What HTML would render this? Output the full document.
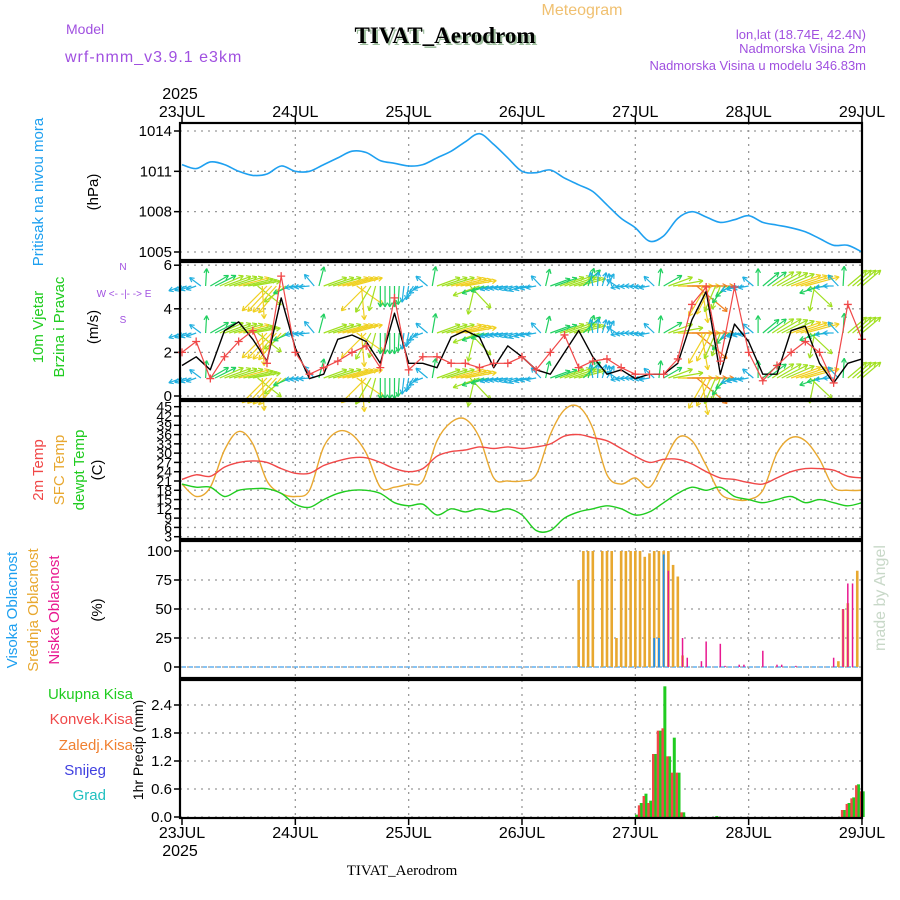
<!DOCTYPE html>
<html><head><meta charset="utf-8"><style>
body{margin:0;background:#fff}
svg{display:block;font-family:"Liberation Sans",sans-serif}
</style></head><body>
<svg id="c" width="900" height="900" viewBox="0 0 900 900" xmlns="http://www.w3.org/2000/svg">
<g id="static"></g>
</svg>
<script>
// ---- data ----
const dayLabels=["23JUL","24JUL","25JUL","26JUL","27JUL","28JUL","29JUL"];
const presTicks=[1014,1011,1008,1005];
const windTicks=[0,2,4,6];
const tempTicks=[3,6,9,12,15,18,21,24,27,30,33,36,39,42,45];
const cloudTicks=[0,25,50,75,100];
const precTicks=[0,0.6,1.2,1.8,2.4];
// 3-hourly series (49 values)
const pressure=[1011.5,1011.2,1011.7,1011.5,1011.0,1010.7,1010.8,1011.4,
1011.0,1011.0,1011.5,1012.0,1012.5,1012.4,1011.8,1011.6,
1011.4,1011.5,1012.0,1012.5,1013.2,1013.8,1013.0,1012.0,
1011.0,1010.9,1011.1,1010.5,1010.0,1009.5,1008.5,1007.5,
1006.8,1005.8,1006.2,1007.5,1008.0,1007.6,1007.2,1007.4,
1007.7,1007.2,1007.0,1006.8,1006.5,1006.0,1005.5,1005.5,1005.0];
const windSpeed=[1.4,1.8,1.2,3.0,3.4,2.6,1.6,4.5,
2.2,0.8,1.0,2.6,2.8,2.5,1.5,3.8,
1.5,1.5,1.3,2.7,3.0,2.7,1.3,2.3,
1.8,1.2,1.0,2.0,3.0,1.8,1.0,1.2,
0.8,1.0,1.0,1.5,3.5,4.8,1.0,3.3,
2.5,1.0,1.0,3.0,3.2,1.5,0.6,1.5,1.7];
const windGust=[2.0,2.5,0.8,1.8,2.5,3.0,1.5,5.5,
2.0,1.0,1.3,1.6,2.0,2.3,1.3,4.5,
1.2,1.8,1.8,1.5,1.5,1.3,1.5,1.5,
1.8,1.2,2.0,2.8,1.3,1.6,1.7,1.3,
1.0,1.0,1.0,1.7,4.2,5.0,1.6,5.0,
2.0,0.7,1.4,2.0,2.5,2.0,0.6,4.2,2.6];
const windDir=[200,200,30,20,15,10,225,230,
190,185,20,15,15,225,270,270,
260,200,20,15,10,200,195,190,
200,190,20,20,15,100,60,190,
180,190,30,0,0,240,250,200,
190,40,30,20,15,200,180,40,40];
const arrowSpeed=[2,1.5,3,4,4.5,4,5,5,
1.5,1.5,3.5,4.5,4.5,5,3,3,
2,1.5,3.5,4.5,4.5,4,2,2,
2,1.5,3,4,4,2,2,1.5,
1.5,1.5,3,5,6,5,3.5,2,
1.5,3,4,4.5,5,3,1.5,3.5,3.5];
const t2m=[21.5,23,22.5,25.5,27,27.5,27,25,
23.5,23.5,26,27.5,28.5,28.5,27,25,
24,25,29,30.5,31,32,31.5,32,
31.5,32,33,35.5,36,35,34,31.5,
29,27,28,28,26.5,24,22,21.5,
20.5,20,22,24,25,25,24.5,22.5,22];
const tsfc=[20,16,19,31,37,33,21,17,
16,18,32,37,36,30,19,19,
20,21,34,40,41,35,22,21,
21,23,36,44,45,38,23,20,
22,19,27,35,34,26,17,15,
15,18,30,35,34,28,19,18,18];
const tdew=[20,19,19,16,18,18.5,18.5,17,
13.5,12.5,15,17,18,18,17,14,
13,13.5,10,12,11,12,11,12,
10,5,5,9,11,12,13,12,
10,11,14,17,19,18,19,16,
15,14,15,16,14,15,14,13,14];
// hourly sparse cloud / precip
const midHours=[84,85,86,87,89,90,91,92,93,94,95,96,97,98,99,100,101,102,103,104,105,106,139,140,141,143];
const midVals=[75,100,100,100,100,100,100,25,100,100,100,100,100,95,98,100,100,100,100,88,78,10,5,50,55,83];
const highHours=[100,101,102];
const highVals=[25,25,97];
const lowHours=[103,106,107,110,111,114,115,118,119,123,126,127,130,138,140,141,142];
const lowVals=[83,25,8,5,22,20,1,2,2,14,2,2,1,8,50,72,72];
const precHours=[96,97,98,99,100,101,102,103,104,105,106,113,140,141,142,143,144];
const precTotal=[0.05,0.3,0.5,0.35,1.35,1.85,2.8,1.3,1.7,0.95,0.1,0.02,0.15,0.3,0.42,0.7,0.55];
const precConv=[0.0,0.25,0.45,0.3,1.35,1.85,1.9,1.3,0.95,0.95,0.1,0.0,0.15,0.28,0.4,0.68,0.55];

// ---- scales ----
const X0=182, DAY=113.33;
const xh=h=>X0+h*DAY/24;
const xi=i=>xh(i*3);
const yP=p=>131+(1014-p)*40.33/3;
const yW=v=>396-v*21.8;
const yT=t=>536.7-(t-3)*3.095;
const yC=c=>667-c*1.16;
const yR=p=>817-p*46.67;
const L=180,R=862;
const panels=[[123,260],[262,399],[401,539],[541,678],[680,818]];

const NS="http://www.w3.org/2000/svg";
const svg=document.getElementById('c');
function mk(tag,attrs,parent,text){const e=document.createElementNS(NS,tag);for(const k in attrs)e.setAttribute(k,attrs[k]);if(text!==undefined)e.textContent=text;(parent||svg).appendChild(e);return e;}

// gridlines
const grid=mk('g',{});


panels.forEach(([t,b])=>{
  for(let d=1;d<6;d++){const x=X0+d*DAY;mk('line',{x1:x,x2:x,y1:t,y2:b,stroke:'#999','stroke-dasharray':'2,5','stroke-width':1.3},grid);}
});
function hgrid(vals,f){vals.forEach(v=>{mk('line',{x1:L,x2:R,y1:f(v),y2:f(v),stroke:'#999','stroke-dasharray':'2,5','stroke-width':1.3},grid);});}
hgrid(presTicks,yP);hgrid(windTicks,yW);hgrid(tempTicks,yT);hgrid(cloudTicks,yC);hgrid(precTicks,yR);

// y ticks
function yticks(vals,f,name,fmt,fs){
  const g=mk('g',{});
  
  
  vals.forEach(v=>{const y=f(v);mk('line',{x1:L-6,x2:L,y1:y,y2:y,stroke:'#000','stroke-width':1.5},g);
   mk('text',{x:L-8,y:y+5,'text-anchor':'end','font-size':fs||15,fill:'#000'},g,fmt?fmt(v):v);});
}
yticks(presTicks,yP,'pressure-y-ticks');
yticks(windTicks,yW,'wind-y-ticks');
yticks(tempTicks,yT,'temp-y-ticks',null,14);
yticks(cloudTicks,yC,'cloud-y-ticks');
yticks(precTicks,yR,'precip-y-ticks',v=>v.toFixed(1));

// line helpers
function line(arr,fy,color,name,w){
  const d=arr.map((v,i)=>(i?'L':'M')+xi(i).toFixed(1)+','+fy(v).toFixed(1)).join('');
  const p=mk('path',{d:d,fill:'none',stroke:color,'stroke-width':w||1.4,'stroke-linejoin':'round'});
  
  
  return p;
}
function smooth(arr,fy,color,name,w){
  const pts=arr.map((v,i)=>[xi(i),fy(v)]);
  let d='M'+pts[0][0].toFixed(1)+','+pts[0][1].toFixed(1);
  for(let i=0;i<pts.length-1;i++){
    const p0=pts[Math.max(0,i-1)],p1=pts[i],p2=pts[i+1],p3=pts[Math.min(pts.length-1,i+2)];
    const c1=[p1[0]+(p2[0]-p0[0])/6,p1[1]+(p2[1]-p0[1])/6],c2=[p2[0]-(p3[0]-p1[0])/6,p2[1]-(p3[1]-p1[1])/6];
    d+=`C${c1[0].toFixed(1)},${c1[1].toFixed(1)} ${c2[0].toFixed(1)},${c2[1].toFixed(1)} ${p2[0].toFixed(1)},${p2[1].toFixed(1)}`;
  }
  const p=mk('path',{d:d,fill:'none',stroke:color,'stroke-width':w||1.4,'stroke-linejoin':'round'});
  
  
  return p;
}
smooth(pressure,yP,'#1ea0f0','pressure-line',1.6);

// wind arrows
function wcol(s){const c=['#8020e0','#3050f0','#20b0e0','#20d060','#a0e020','#f0d020','#f08020'];return c[Math.max(0,Math.min(6,Math.round(s)))];}
const ag=mk('g',{});


[286,333,378].forEach(ry=>{
  windDir.forEach((dir,i)=>{
    const subs=i<windDir.length-1?3:1;
    for(let k=0;k<subs;k++){
      const f=k/3, j=Math.min(i+1,windDir.length-1);
      let d2=windDir[j]; let dd=d2-dir; if(dd>180)dd-=360; if(dd<-180)dd+=360;
      const dirk=dir+dd*f, spk=arrowSpeed[i]+(arrowSpeed[j]-arrowSpeed[i])*f;
      const len=spk*7, a=dirk*Math.PI/180;
      const x1=xh(i*3+k),y1=ry,x2=x1+len*Math.cos(a),y2=y1-len*Math.sin(a);
      const col=wcol(spk);
      const ha=Math.atan2(y2-y1,x2-x1);
      mk('line',{x1:x1,y1:y1,x2:x2,y2:y2,stroke:col,'stroke-width':1.2},ag);
      [0.5,-0.5].forEach(o=>mk('line',{x1:x2,y1:y2,x2:x2-5*Math.cos(ha+o),y2:y2-5*Math.sin(ha+o),stroke:col,'stroke-width':1.2},ag));
    }
  });
});
line(windSpeed,yW,'#000','wind-speed-line',1.4);
line(windGust,yW,'#f04848','wind-gust-line',1.2);
const gm=mk('g',{});


windGust.forEach((v,i)=>{const x=xi(i),y=yW(v);mk('path',{d:`M${x-4},${y}h8M${x},${y-4}v8`,stroke:'#f04848','stroke-width':1.3},gm);});

// temperatures
smooth(tsfc,yT,'#e8a830','sfc-temp-line',1.4);
smooth(t2m,yT,'#f04848','t2m-line',1.4);
smooth(tdew,yT,'#20cc20','dewpoint-line',1.4);

// clouds
function bars(hours,vals,fy,base,color,name,w,off){
  const g=mk('g',{});
  
  
  hours.forEach((h,i)=>{const y=fy(vals[i]);mk('rect',{x:xh(h)+(off||0)-w/2,y:y,width:w,height:Math.max(0,base-y),fill:color},g);});
}
mk('line',{x1:X0,x2:R,y1:yC(0),y2:yC(0),stroke:'#60b0f0','stroke-width':1.5,'stroke-dasharray':'4,3'});
bars(midHours,midVals,yC,yC(0),'#e8a830','mid-cloud-bars',2.6,0);
bars(highHours,highVals,yC,yC(0),'#1e90f0','high-cloud-bars',1.8,0);
bars(lowHours,lowVals,yC,yC(0),'#e81890','low-cloud-bars',1.5,0);

// precipitation
bars(precHours,precTotal,yR,yR(0),'#20cc20','total-precip-bars',3,1.2);
bars(precHours,precConv,yR,yR(0),'#f04848','convective-precip-bars',2.4,-1);

// frames
const fr=mk('g',{});


panels.forEach(([t,b])=>{mk('rect',{x:L,y:t,width:R-L,height:b-t,fill:'none',stroke:'#000','stroke-width':2.2},fr);});

// day ticks & labels
const xt=mk('g',{});


dayLabels.forEach((d,i)=>{const x=X0+i*DAY;
  mk('line',{x1:x,x2:x,y1:116,y2:123,stroke:'#000','stroke-width':1.5},xt);
  mk('line',{x1:x,x2:x,y1:818,y2:825,stroke:'#000','stroke-width':1.5},xt);
  mk('text',{x:x,y:117,'text-anchor':'middle','font-size':16},xt,d);
  mk('text',{x:x,y:838,'text-anchor':'middle','font-size':16},xt,d);
});
</script>
<script>
// static text
(function(){
const NS="http://www.w3.org/2000/svg",svg=document.getElementById('c');
function t(txt,attrs,name){const e=document.createElementNS(NS,'text');for(const k in attrs)e.setAttribute(k,attrs[k]);e.textContent=txt;


svg.appendChild(e);return e;}
const P='#a050e0';
t('Meteogram',{x:582,y:15,'text-anchor':'middle','font-size':16,fill:'#f0c070'},'meteogram-label');
t('TIVAT_Aerodrom',{x:447,y:45,'text-anchor':'middle','font-size':23,'font-weight':'bold','font-family':'Liberation Serif,serif',fill:'#a0c0a0'},'title-shadow');
t('TIVAT_Aerodrom',{x:445,y:43,'text-anchor':'middle','font-size':23,'font-weight':'bold','font-family':'Liberation Serif,serif',fill:'#000'},'chart-title');
t('Model',{x:66,y:34,'font-size':14,fill:P},'model-label');
t('wrf-nmm_v3.9.1 e3km',{x:65,y:62,'font-size':16,fill:P,'letter-spacing':'1'},'model-name');
t('lon,lat (18.74E, 42.4N)',{x:866,y:39,'text-anchor':'end','font-size':13,fill:P},'location-coords');
t('Nadmorska Visina 2m',{x:866,y:53,'text-anchor':'end','font-size':13,fill:P},'elevation');
t('Nadmorska Visina u modelu 346.83m',{x:866,y:70,'text-anchor':'end','font-size':13,fill:P},'model-elevation');
t('2025',{x:180,y:99,'text-anchor':'middle','font-size':16},'year-top');
t('2025',{x:180,y:856,'text-anchor':'middle','font-size':16},'year-bottom');
t('TIVAT_Aerodrom',{x:402,y:875,'text-anchor':'middle','font-size':15,'font-family':'Liberation Serif,serif'},'footer-station');
function rt(txt,x,y,col,name,fs){return t(txt,{x:x,y:y,transform:`rotate(-90 ${x} ${y})`,'text-anchor':'middle','font-size':fs||15,fill:col},name);}
rt('Pritisak na nivou mora',43,192,'#1ea0f0','pressure-axis-title');
rt('(hPa)',98,192,'#000','pressure-unit');
rt('10m Vjetar',43,327,'#20cc20','wind-axis-title-1');
rt('Brzina i Pravac',64,327,'#20cc20','wind-axis-title-2');
rt('(m/s)',98,327,'#000','wind-unit');
rt('2m Temp',43,470,'#f04848','t2m-axis-title');
rt('SFC Temp',64,470,'#e8a830','sfc-axis-title');
rt('dewpt Temp',84,470,'#20cc20','dew-axis-title');
rt('(C)',102,470,'#000','temp-unit');
rt('Visoka Oblacnost',17,610,'#1ea0f0','high-cloud-title');
rt('Srednja Oblacnost',38,610,'#e8a830','mid-cloud-title');
rt('Niska Oblacnost',59,610,'#e81890','low-cloud-title');
rt('(%)',102,610,'#000','cloud-unit');
rt('1hr Precip (mm)',143,750,'#000','precip-axis-title',14);
rt('made by Angel',885,598,'#c8d8c8','watermark',16);
t('Ukupna Kisa',{x:133,y:699,'text-anchor':'end','font-size':15,fill:'#20cc20'},'legend-total');
t('Konvek.Kisa',{x:133,y:724,'text-anchor':'end','font-size':15,fill:'#f04848'},'legend-convective');
t('Zaledj.Kisa',{x:133,y:750,'text-anchor':'end','font-size':15,fill:'#f08030'},'legend-freezing');
t('Snijeg',{x:106,y:775,'text-anchor':'end','font-size':15,fill:'#4040e0'},'legend-snow');
t('Grad',{x:106,y:800,'text-anchor':'end','font-size':15,fill:'#20c0c0'},'legend-hail');
t('N',{x:123,y:270,'text-anchor':'middle','font-size':10,fill:P},'compass-n');
t('W  <- -|- ->  E',{x:124,y:297,'text-anchor':'middle','font-size':10,fill:P},'compass-we');
t('S',{x:123,y:323,'text-anchor':'middle','font-size':10,fill:P},'compass-s');
})();
</script>
</body></html>
